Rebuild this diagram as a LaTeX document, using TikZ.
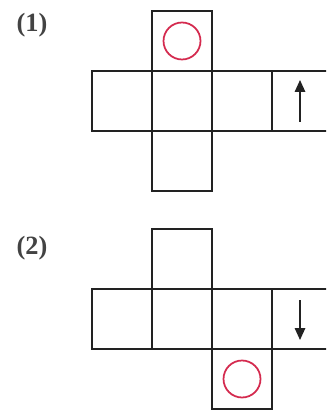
\documentclass[tikz,border=0pt]{standalone}
\usepackage{fontspec}
\setmainfont{Liberation Serif}
\usetikzlibrary{arrows.meta,positioning,calc}
\definecolor{ringred}{HTML}{D42A4E}
\definecolor{edgeline}{HTML}{222222}

\begin{document}
\begin{tikzpicture}[x=0.02cm,y=-0.02cm,
 face/.style={draw=edgeline,line width=1.1pt,minimum size=1.2cm,inner sep=0pt,outer sep=0pt},
 ring/.style={draw=ringred,line width=1pt,circle,minimum size=0.74cm,inner sep=0pt},
 tag/.style={font=\fontsize{15}{17}\selectfont\bfseries,text=edgeline!85},
 arr/.style={-{Triangle[length=2.4mm,width=2.1mm]},line width=0.9pt,edgeline}]
\useasboundingbox (0,0) rectangle (326,411);
\clip (0,0) rectangle (326,411);
% net (1)
\node[tag] (t1) at (32,25) {(1)};
\node[face] (a1) at (122,101) {};
\node[face] (a2) at (182,101) {};
\node[face] (a3) at (242,101) {};
\node[face] (a4) at (302,101) {};
\node[face] (au) at (182,41) {};
\node[face] (ad) at (182,161) {};
\node[ring] (r1) at (au) {};
\coordinate (p1) at ($(a4)+(-2,21)$);
\coordinate (q1) at ($(a4)+(-2,-21)$);
\draw[arr] (p1)--(q1);
% net (2)
\node[tag] (t2) at (32,248) {(2)};
\node[face] (b1) at (122,319) {};
\node[face] (b2) at (182,319) {};
\node[face] (b3) at (242,319) {};
\node[face] (b4) at (302,319) {};
\node[face] (bu) at (182,259) {};
\node[face] (bd) at (242,379) {};
\node[ring] (r2) at (bd) {};
\coordinate (p2) at ($(b4)+(-2,-19)$);
\coordinate (q2) at ($(b4)+(-2,21)$);
\draw[arr] (p2)--(q2);
\end{tikzpicture}
\end{document}
